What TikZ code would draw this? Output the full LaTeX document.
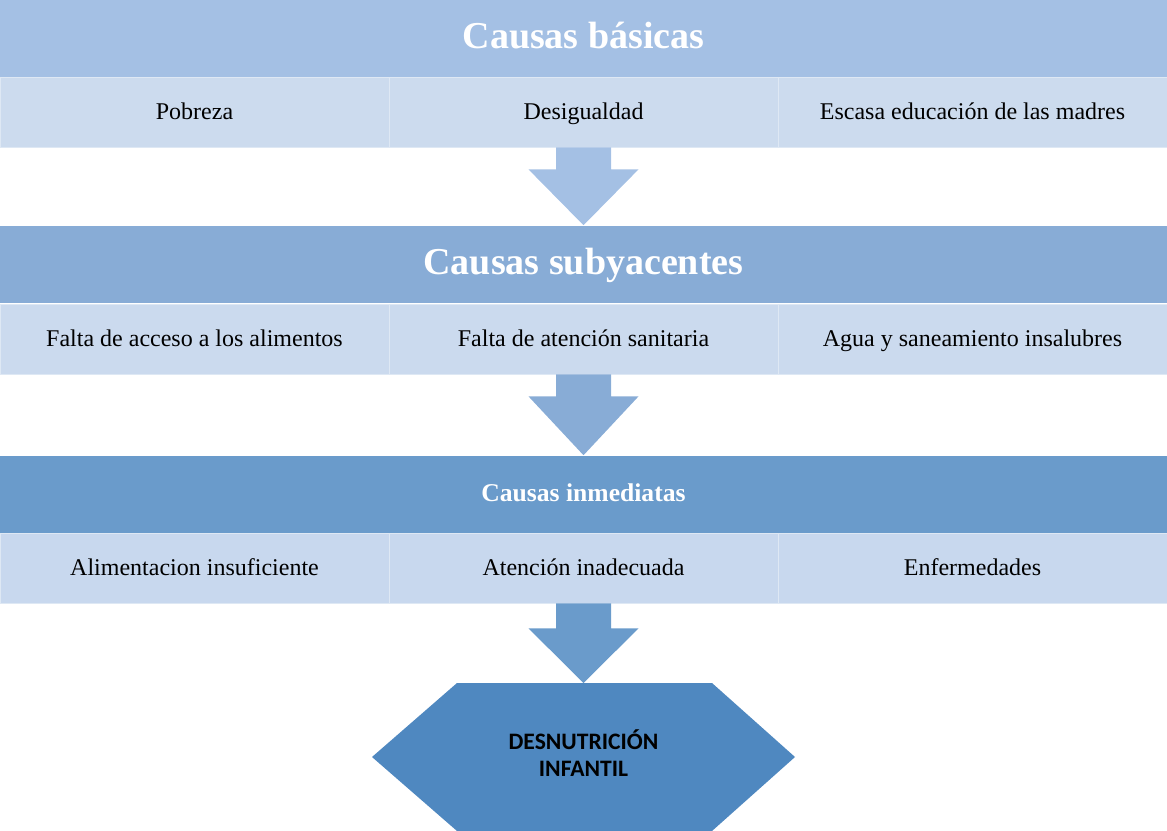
\documentclass[tikz,border=0pt]{standalone}
\usepackage{fontspec}
\setmainfont{Liberation Serif}
\newfontfamily\calibri{Carlito}
\usetikzlibrary{calc}

\definecolor{hdrA}{HTML}{A4C0E4}
\definecolor{hdrB}{HTML}{88ACD6}
\definecolor{hdrC}{HTML}{6A9BCB}
\definecolor{subA}{HTML}{CCDBEE}
\definecolor{subB}{HTML}{CBDAEE}
\definecolor{subC}{HTML}{C8D8EE}
\definecolor{hexcol}{HTML}{4F88C0}

\begin{document}
\begin{tikzpicture}[x=0.75pt, y=-0.75pt,
    header/.style={inner sep=0, minimum width=875.25pt, minimum height=57.75pt,
      text height=20pt, text depth=5pt,
      text=white, font=\bfseries\fontsize{28.5}{30}\selectfont},
    cell/.style={inner sep=0, minimum width=291.75pt, minimum height=52.5pt,
      text height=13pt, text depth=2pt,
      draw=white!35!subA, line width=0.6pt, font=\fontsize{18}{20}\selectfont},
  ]
    \useasboundingbox (0,0) rectangle (1167,831);

    % causas basicas
    \node[header, fill=hdrA] (basicas) at (583.5,38.5) {Causas básicas};
    \node[cell, fill=subA] (pobreza) at (194.5,112) {Pobreza};
    \node[cell, fill=subA] (desig) at (583.5,112) {Desigualdad};
    \node[cell, fill=subA] (madres) at (972.5,112) {Escasa educación de las madres};

    % causas subyacentes
    \node[header, fill=hdrB] (subyac) at (583.5,264) {Causas subyacentes};
    \node[cell, fill=subB] (alim) at (194.5,339) {Falta de acceso a los alimentos};
    \node[cell, fill=subB] (sanit) at (583.5,339) {Falta de atención sanitaria};
    \node[cell, fill=subB] (agua) at (972.5,339) {Agua y saneamiento insalubres};

    % causas inmediatas
    \node[header, fill=hdrC, text height=13pt, text depth=2pt,
      font=\bfseries\fontsize{19.2}{21}\selectfont] (inmed) at (583.5,494) {Causas inmediatas};
    \node[cell, fill=subC] (insuf) at (194.5,568) {Alimentacion insuficiente};
    \node[cell, fill=subC] (atenc) at (583.5,568) {Atención inadecuada};
    \node[cell, fill=subC] (enferm) at (972.5,568) {Enfermedades};

    % desnutricion
    \fill[hexcol] (457,683) -- (712,683) -- (795,757) -- (712,831) -- (457,831) -- (372,757) -- cycle;
    \coordinate (hextop) at (583.5,683);
    \node[align=center, font=\calibri\bfseries\fontsize{17.7}{20}\selectfont] (desnut) at (583.5,753)
      {DESNUTRICIÓN\\INFANTIL};

    % arrows
    \fill[hdrA] ($(desig.south)+(-27.5,0)$) -- ($(desig.south)+(27.5,0)$) -- ($(desig.south)+(27.5,22)$)
      -- ($(desig.south)+(55,22)$) -- (subyac.north) -- ($(desig.south)+(-55,22)$)
      -- ($(desig.south)+(-27.5,22)$) -- cycle;
    \fill[hdrB] ($(sanit.south)+(-27.5,0)$) -- ($(sanit.south)+(27.5,0)$) -- ($(sanit.south)+(27.5,22)$)
      -- ($(sanit.south)+(55,22)$) -- (inmed.north) -- ($(sanit.south)+(-55,22)$)
      -- ($(sanit.south)+(-27.5,22)$) -- cycle;
    \fill[hdrC] ($(atenc.south)+(-27.5,0)$) -- ($(atenc.south)+(27.5,0)$) -- ($(atenc.south)+(27.5,25)$)
      -- ($(atenc.south)+(55,25)$) -- (hextop) -- ($(atenc.south)+(-55,25)$)
      -- ($(atenc.south)+(-27.5,25)$) -- cycle;
\end{tikzpicture}
\end{document}
